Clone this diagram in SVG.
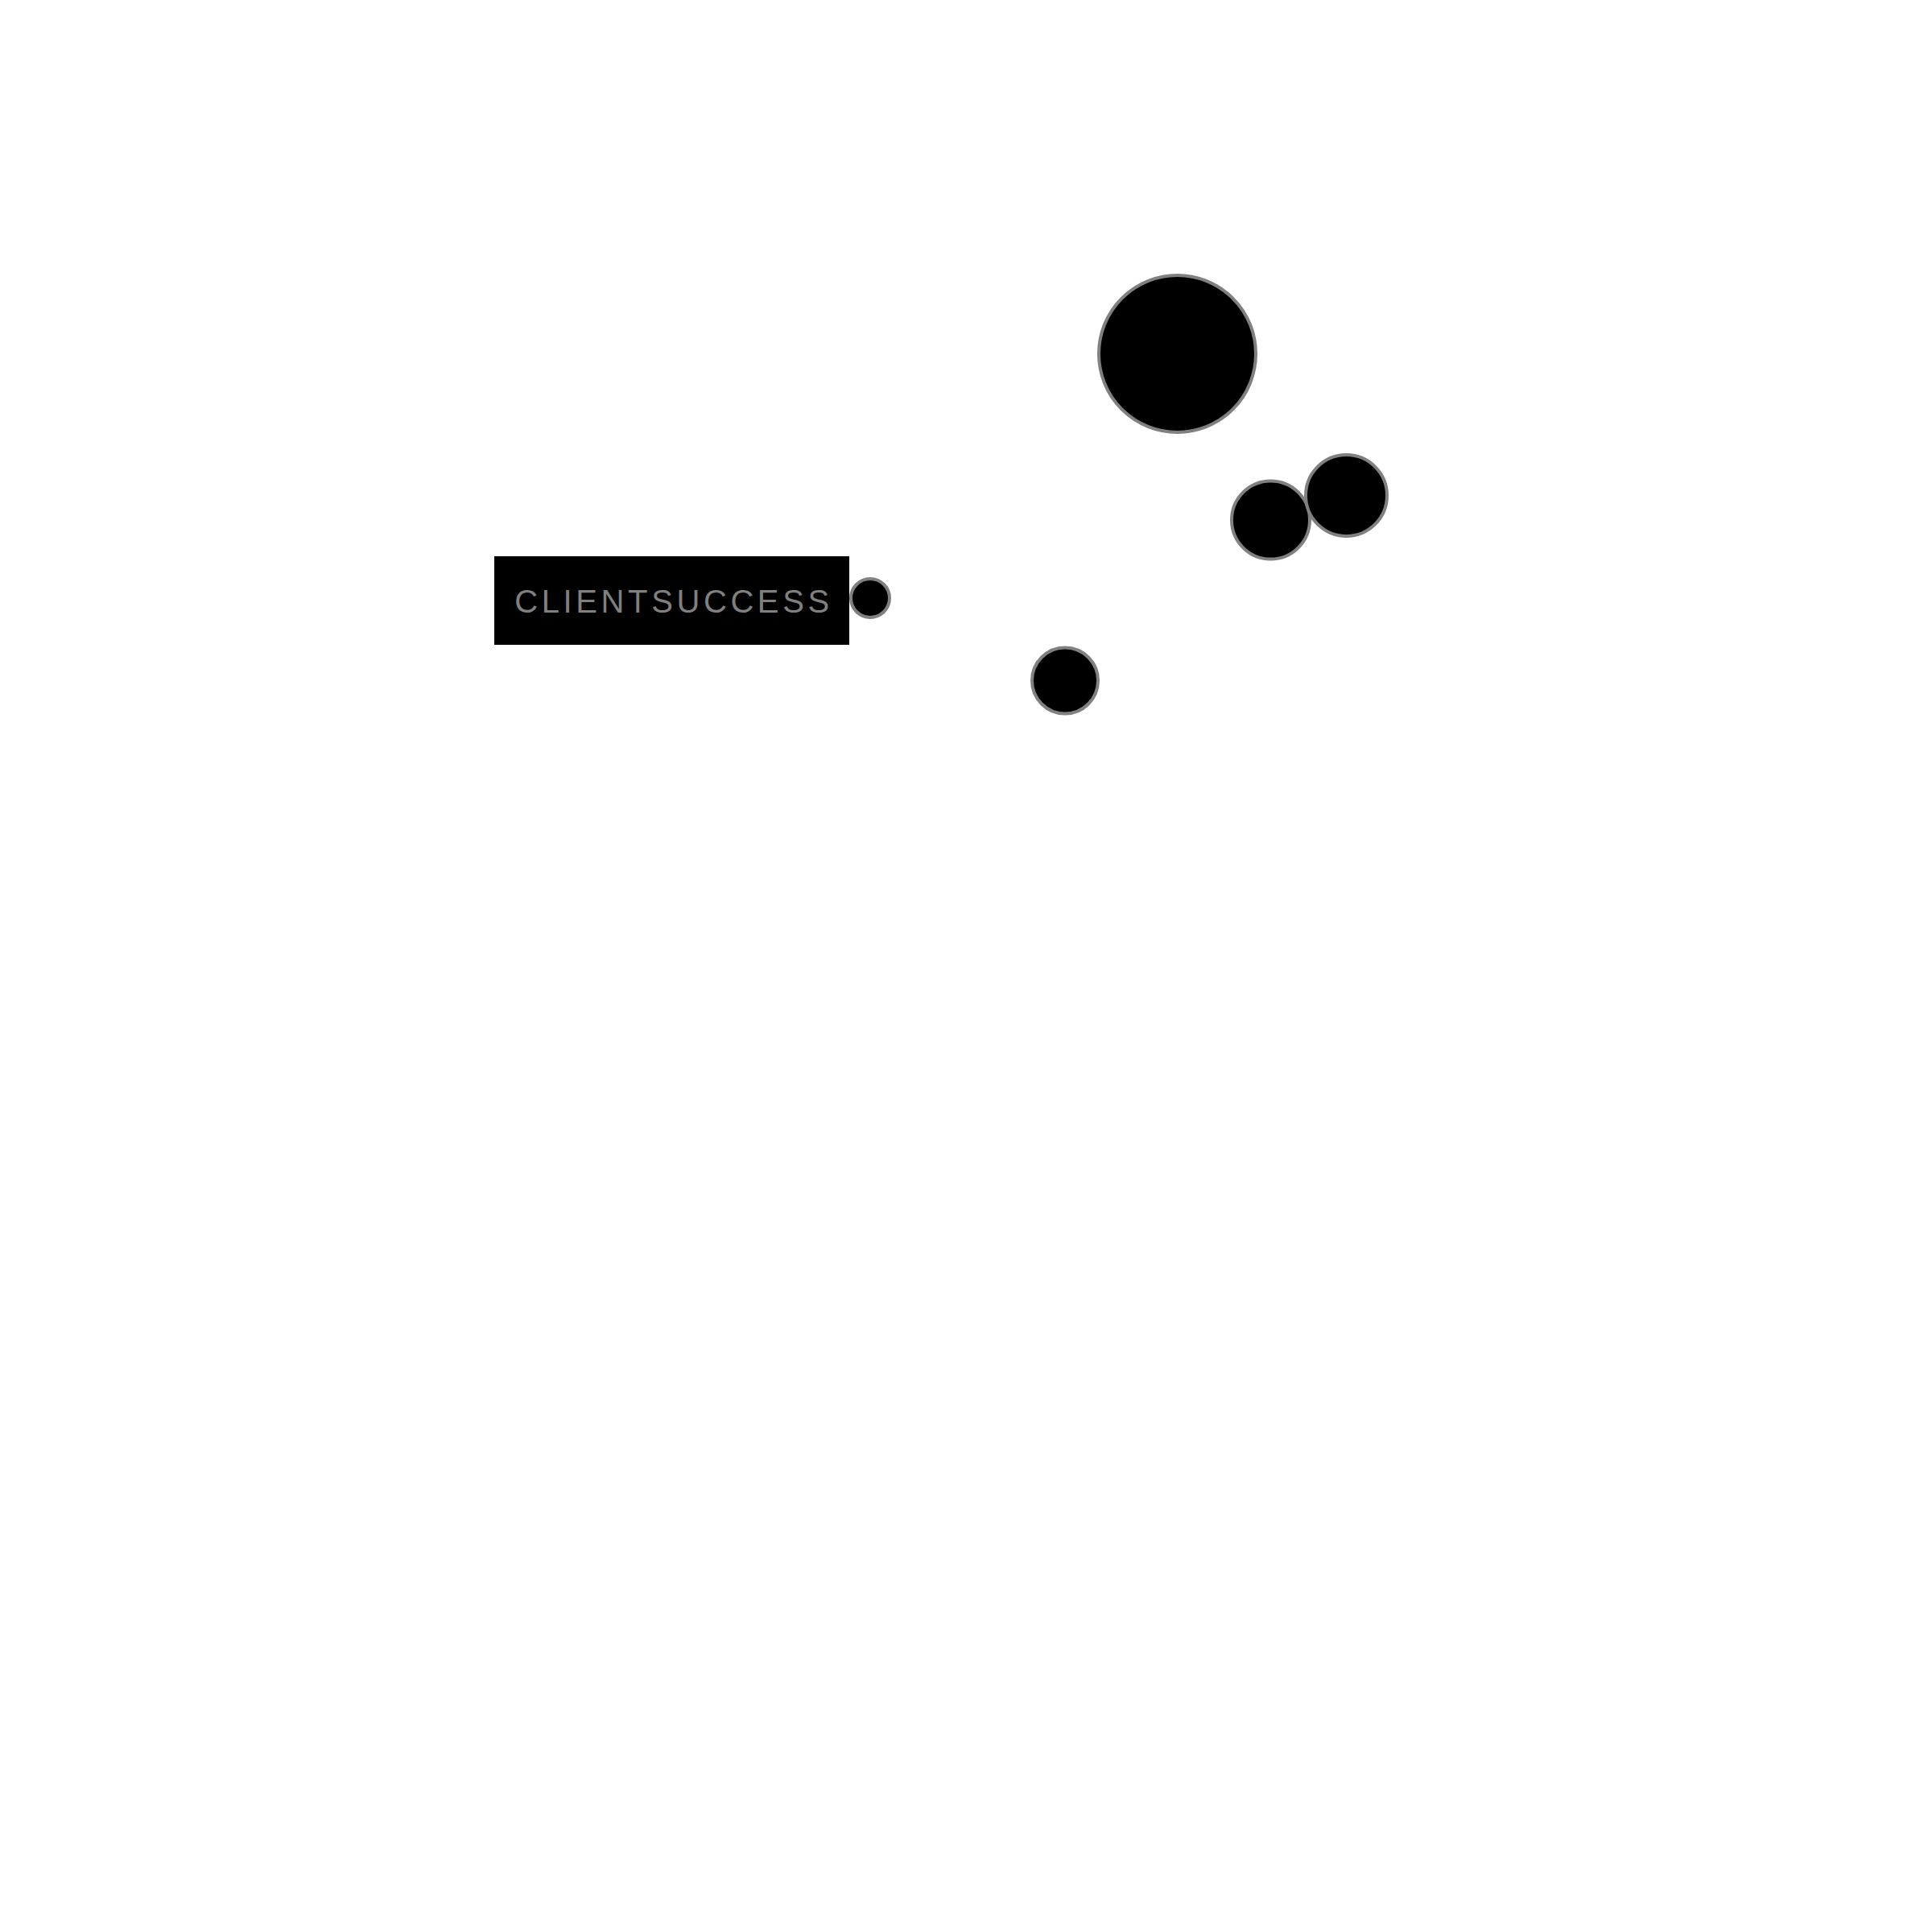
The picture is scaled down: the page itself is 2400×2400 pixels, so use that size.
<svg xmlns="http://www.w3.org/2000/svg" width="2400" height="2400" viewBox="0 0 2400 2400">
<style>
.n{fill:#000;stroke:#808080;stroke-width:4}
.lbl{font-family:"Liberation Sans",Arial,sans-serif;font-size:40px;fill:#808080;letter-spacing:4.6px}
</style>
<rect width="2400" height="2400" fill="#fff"/>
<g id="connectors"></g>
<g id="node-clientsuccess">
<rect x="614" y="691" width="441" height="110" fill="#000"/>
<text class="lbl" x="837" y="761" text-anchor="middle">CLIENTSUCCESS</text>
</g>
<g id="node-1"><circle class="n" cx="1462.5" cy="439.5" r="97.5"/></g>
<g id="node-2"><circle class="n" cx="1578.5" cy="646" r="48.5"/></g>
<g id="node-3"><circle class="n" cx="1672.5" cy="615.5" r="50.5"/></g>
<g id="node-4"><circle class="n" cx="1081" cy="743" r="24"/></g>
<g id="node-5"><circle class="n" cx="1323" cy="845.5" r="41"/></g>
</svg>
